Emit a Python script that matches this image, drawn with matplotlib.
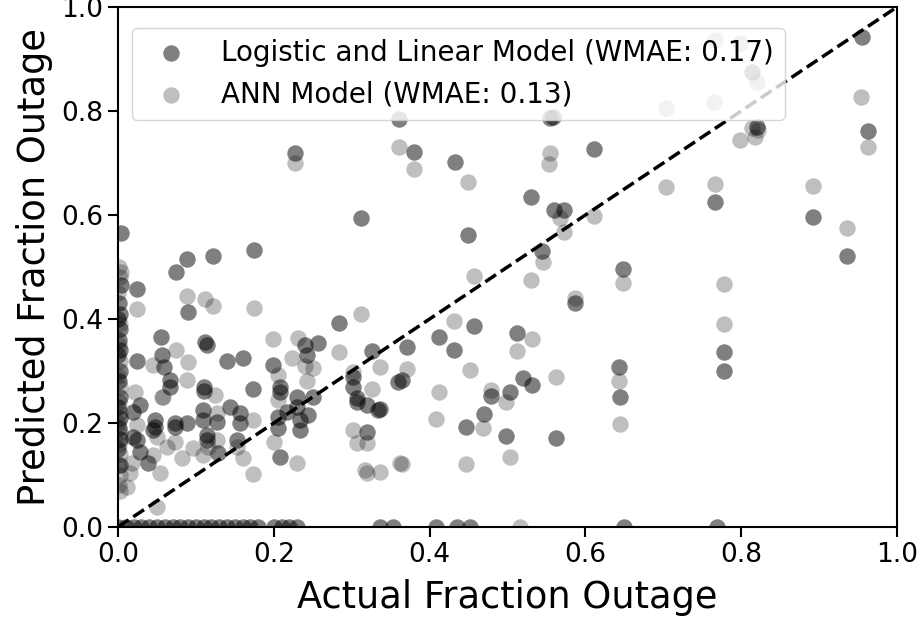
import numpy as np
import matplotlib
matplotlib.use('Agg')
import matplotlib.pyplot as plt

# values (actual, predicted)
lin_actual = [0.955, 0.963, 0.554, 0.558, 0.361, 0.611, 0.433, 0.380, 0.227, 0.530,
              0.312, 0.449, 0.544, 0.560, 0.572, 0.648, 0.587, 0.766, 0.892, 0.936,
              0.778, 0.778, 0.820, 0.814,
              0.371, 0.412, 0.457, 0.431, 0.365, 0.336, 0.512, 0.520, 0.531, 0.503,
              0.479, 0.470, 0.447, 0.498, 0.562, 0.643, 0.644, 0.334, 0.320, 0.307,
              0.320, 0.359, 0.326, 0.302, 0.302, 0.307,
              0.004, 0.004, 0.024, 0.074, 0.089, 0.122, 0.175, 0.090, 0.284, 0.055,
              0.112, 0.114, 0.024, 0.056, 0.059, 0.067, 0.067, 0.110, 0.110, 0.140,
              0.160, 0.173, 0.240, 0.257, 0.243, 0.199, 0.208, 0.208, 0.230, 0.250,
              0.230, 0.234, 0.244, 0.205, 0.205, 0.208, 0.234, 0.217, 0.157, 0.144,
              0.157, 0.127, 0.109, 0.109, 0.114, 0.114, 0.153, 0.128, 0.089, 0.073,
              0.073, 0.047, 0.045, 0.047, 0.028, 0.039, 0.028, 0.019, 0.019, 0.024,
              0.001, 0.002, 0.000, 0.003, 0.001, 0.002, 0.000, 0.003, 0.001, 0.002,
              0.000, 0.003, 0.001, 0.002, 0.000, 0.003,
              0.000, 0.010, 0.020, 0.030, 0.040, 0.050, 0.060, 0.070, 0.080, 0.090,
              0.100, 0.110, 0.120, 0.130, 0.140, 0.150, 0.160, 0.170, 0.180, 0.200,
              0.210, 0.220, 0.230, 0.336, 0.353, 0.408, 0.435, 0.452, 0.650, 0.769]
lin_pred = [0.943, 0.762, 0.787, 0.789, 0.785, 0.727, 0.702, 0.721, 0.719, 0.635,
            0.594, 0.562, 0.530, 0.610, 0.610, 0.496, 0.431, 0.625, 0.596, 0.521,
            0.337, 0.300, 0.770, 0.875,
            0.346, 0.366, 0.387, 0.340, 0.283, 0.227, 0.373, 0.287, 0.273, 0.260,
            0.252, 0.217, 0.192, 0.175, 0.171, 0.308, 0.250, 0.225, 0.235, 0.240,
            0.183, 0.279, 0.338, 0.288, 0.269, 0.248,
            0.565, 0.465, 0.458, 0.490, 0.515, 0.521, 0.533, 0.414, 0.393, 0.365,
            0.356, 0.350, 0.319, 0.331, 0.308, 0.283, 0.269, 0.269, 0.262, 0.319,
            0.325, 0.265, 0.350, 0.354, 0.331, 0.312, 0.269, 0.260, 0.250, 0.250,
            0.231, 0.206, 0.215, 0.212, 0.190, 0.135, 0.187, 0.221, 0.219, 0.231,
            0.200, 0.202, 0.225, 0.206, 0.177, 0.167, 0.167, 0.142, 0.200, 0.192,
            0.200, 0.206, 0.187, 0.192, 0.144, 0.123, 0.235, 0.221, 0.173, 0.167,
            0.430, 0.410, 0.400, 0.380, 0.360, 0.340, 0.330, 0.300, 0.280, 0.250,
            0.230, 0.210, 0.190, 0.170, 0.150, 0.120,
            0.0, 0.0, 0.0, 0.0, 0.0, 0.0, 0.0, 0.0, 0.0, 0.0,
            0.0, 0.0, 0.0, 0.0, 0.0, 0.0, 0.0, 0.0, 0.0, 0.0,
            0.0, 0.0, 0.0, 0.0, 0.0, 0.0, 0.0, 0.0, 0.0, 0.0]

ann_actual = [0.766, 0.798, 0.820, 0.703, 0.765, 0.814, 0.822, 0.798, 0.818, 0.954,
              0.963, 0.892, 0.766, 0.703, 0.936, 0.778, 0.778,
              0.361, 0.380, 0.449, 0.555, 0.553, 0.567, 0.573, 0.611, 0.546, 0.457,
              0.530, 0.648, 0.587, 0.227,
              0.336, 0.371, 0.431, 0.412, 0.452, 0.408, 0.469, 0.479, 0.498, 0.512,
              0.531, 0.562, 0.503, 0.447, 0.365, 0.336, 0.643, 0.644, 0.516,
              0.302, 0.307, 0.320, 0.317, 0.362, 0.302, 0.326, 0.284, 0.312,
              0.004, 0.024, 0.089, 0.112, 0.122, 0.175, 0.074, 0.045, 0.090, 0.089,
              0.125, 0.056, 0.199, 0.231, 0.223, 0.205, 0.240, 0.250, 0.243, 0.200,
              0.230, 0.173, 0.127, 0.116, 0.127, 0.153, 0.160, 0.109, 0.096, 0.082,
              0.073, 0.063, 0.050, 0.045, 0.054, 0.050, 0.058, 0.022, 0.024, 0.018,
              0.015, 0.012, 0.173, 0.320, 0.205,
              0.001, 0.002, 0.000, 0.003, 0.001, 0.002, 0.000, 0.003, 0.001, 0.002,
              0.000, 0.003, 0.001, 0.002, 0.000, 0.003, 0.001, 0.002]
ann_pred = [0.937, 0.931, 0.856, 0.806, 0.817, 0.767, 0.763, 0.744, 0.750, 0.827,
            0.730, 0.656, 0.660, 0.654, 0.575, 0.467, 0.390,
            0.731, 0.688, 0.663, 0.719, 0.698, 0.594, 0.567, 0.598, 0.510, 0.483,
            0.475, 0.469, 0.440, 0.700,
            0.308, 0.304, 0.396, 0.260, 0.302, 0.208, 0.190, 0.263, 0.240, 0.338,
            0.361, 0.288, 0.135, 0.121, 0.121, 0.106, 0.281, 0.198, 0.0,
            0.187, 0.161, 0.161, 0.110, 0.123, 0.298, 0.265, 0.337, 0.410,
            0.490, 0.419, 0.444, 0.439, 0.425, 0.421, 0.340, 0.312, 0.317, 0.283,
            0.254, 0.250, 0.362, 0.363, 0.325, 0.292, 0.310, 0.306, 0.281, 0.163,
            0.123, 0.206, 0.219, 0.154, 0.167, 0.154, 0.133, 0.138, 0.152, 0.133,
            0.163, 0.154, 0.173, 0.138, 0.104, 0.038, 0.250, 0.260, 0.196, 0.123,
            0.104, 0.077, 0.102, 0.104, 0.244,
            0.500, 0.480, 0.450, 0.390, 0.350, 0.320, 0.290, 0.270, 0.240, 0.220,
            0.200, 0.180, 0.160, 0.140, 0.120, 0.100, 0.080, 0.070]

lin_label = 'Logistic and Linear Model (WMAE: 0.17)'
ann_label = 'ANN Model (WMAE: 0.13)'

fig = plt.figure(figsize=(9.19, 6.22), dpi=100)
ax = fig.add_axes([118/919, 1 - 527/622, 779/919, 520/622])

ax.scatter(lin_actual, lin_pred, s=140, c='k', alpha=0.5, linewidths=0, label=lin_label)
ax.scatter(ann_actual, ann_pred, s=140, c='k', alpha=0.25, linewidths=0, label=ann_label)
ax.plot([0, 1], [0, 1], 'k--', linewidth=2.5)

ax.set_xlim(0, 1)
ax.set_ylim(0, 1)
ax.set_xticks(np.arange(0, 1.01, 0.2))
ax.set_yticks(np.arange(0, 1.01, 0.2))
ax.tick_params(labelsize=19, width=1.5, length=7)
for sp in ax.spines.values():
    sp.set_linewidth(1.5)
ax.set_xlabel('Actual Fraction Outage', fontsize=26.5, labelpad=8)
ax.set_ylabel('Predicted Fraction Outage', fontsize=26.5, labelpad=6)
ax.legend(loc='upper left', fontsize=20, bbox_to_anchor=(0, 0.987))

fig.savefig('out.png', dpi=100)
